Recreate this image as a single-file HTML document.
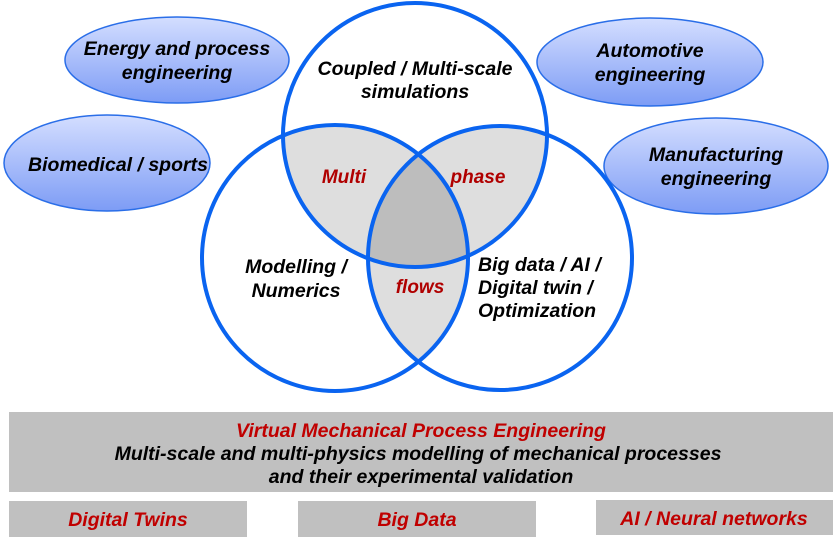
<!DOCTYPE html>
<html><head><style>
body{margin:0;background:#fff;}
svg{display:block;font-family:"Liberation Sans",Arial,sans-serif;font-weight:bold;font-style:italic;}
</style></head><body>
<svg width="834" height="543" viewBox="0 0 834 543" xmlns="http://www.w3.org/2000/svg">
<defs>
<linearGradient id="g" x1="0" y1="0" x2="0" y2="1">
<stop offset="0" stop-color="#d4deff"/><stop offset="1" stop-color="#7d9cf5"/>
</linearGradient>
<clipPath id="cT"><circle cx="415" cy="135" r="132"/></clipPath>
<clipPath id="cL"><circle cx="335" cy="258" r="133"/></clipPath>
<clipPath id="cR"><circle cx="500" cy="258" r="132"/></clipPath>
</defs>
<g stroke="#2a6ee8" stroke-width="1.5" fill="url(#g)">
<ellipse cx="177" cy="60" rx="112" ry="43"/>
<ellipse cx="107" cy="163" rx="103" ry="48"/>
<ellipse cx="650" cy="62" rx="113" ry="44"/>
<ellipse cx="716" cy="166" rx="112" ry="48"/>
</g>
<g clip-path="url(#cT)"><circle cx="335" cy="258" r="133" fill="#dedede"/><circle cx="500" cy="258" r="132" fill="#dedede"/></g>
<g clip-path="url(#cL)"><circle cx="500" cy="258" r="132" fill="#dedede"/></g>
<g clip-path="url(#cT)"><g clip-path="url(#cL)"><circle cx="500" cy="258" r="132" fill="#bdbdbd"/></g></g>
<g fill="none" stroke="#0a64f0" stroke-width="4">
<circle cx="415" cy="135" r="132"/>
<circle cx="335" cy="258" r="133"/>
<circle cx="500" cy="258" r="132"/>
</g>
<g font-size="19.5" text-anchor="middle" fill="#000">
<text x="177" y="55">Energy and process</text>
<text x="177" y="79">engineering</text>
<text x="118" y="171">Biomedical / sports</text>
<text x="650" y="57">Automotive</text>
<text x="650" y="81">engineering</text>
<text x="716" y="161">Manufacturing</text>
<text x="716" y="185">engineering</text>
<text x="415" y="75">Coupled / Multi-scale</text>
<text x="415" y="98">simulations</text>
<text x="296" y="273">Modelling /</text>
<text x="296" y="297">Numerics</text>
<text x="478" y="271" text-anchor="start">Big data / AI /</text>
<text x="478" y="294" text-anchor="start">Digital twin /</text>
<text x="478" y="317" text-anchor="start">Optimization</text>
</g>
<g font-size="19" text-anchor="middle" fill="#b00000">
<text x="344" y="183">Multi</text>
<text x="478" y="183">phase</text>
<text x="420" y="293">flows</text>
</g>
<rect x="9" y="412" width="824" height="80" fill="#c0c0c0"/>
<rect x="9" y="501" width="238" height="36" fill="#c0c0c0"/>
<rect x="298" y="501" width="238" height="36" fill="#c0c0c0"/>
<rect x="596" y="500" width="237" height="35" fill="#c0c0c0"/>
<g font-size="19.5" text-anchor="middle">
<text x="421" y="437" fill="#c00000">Virtual Mechanical Process Engineering</text>
<text x="418" y="460" fill="#000">Multi-scale and multi-physics modelling of mechanical processes</text>
<text x="421" y="483" fill="#000">and their experimental validation</text>
<text x="128" y="526" fill="#c00000">Digital Twins</text>
<text x="417" y="526" fill="#c00000">Big Data</text>
<text x="714" y="525" fill="#c00000">AI / Neural networks</text>
</g>
</svg>
</body></html>
